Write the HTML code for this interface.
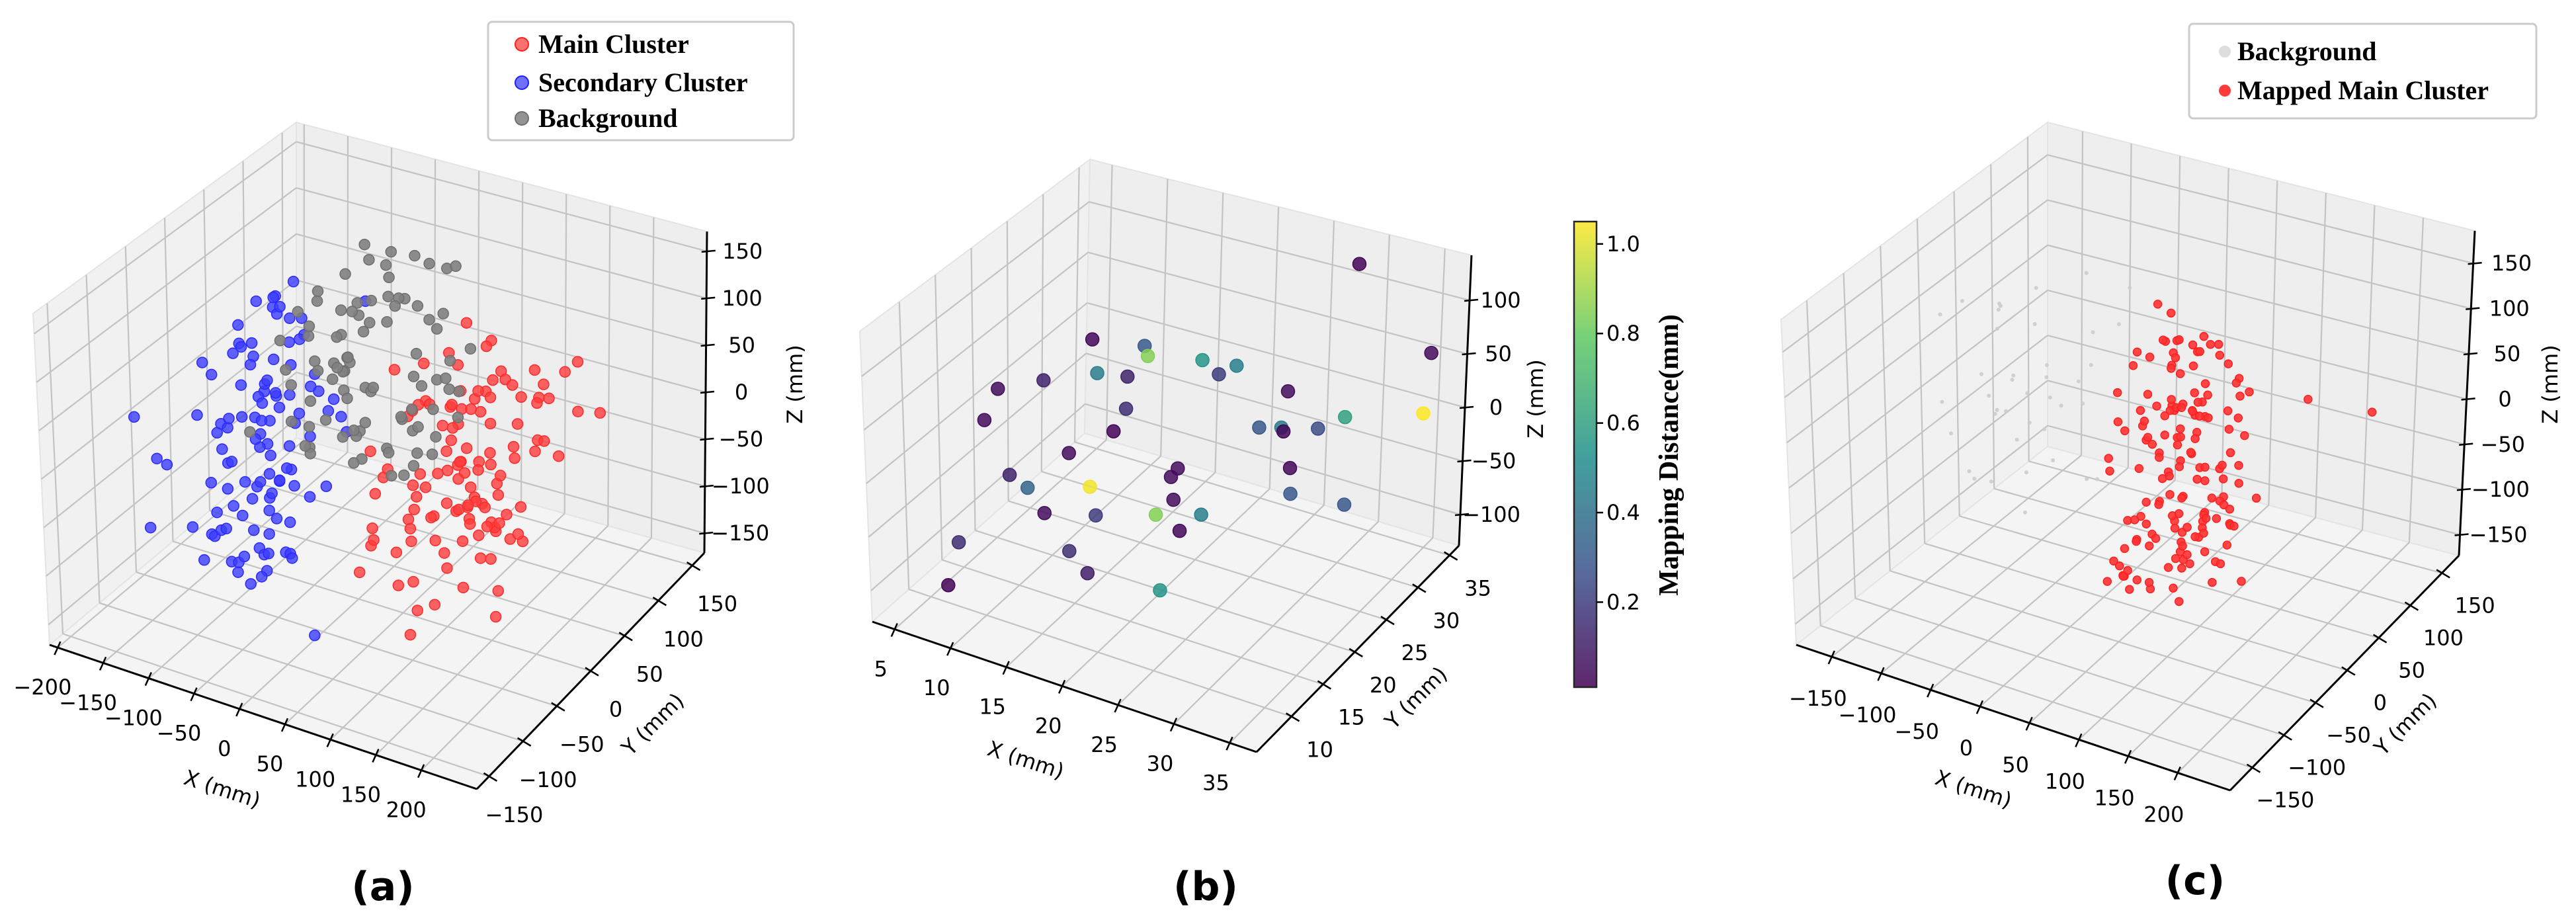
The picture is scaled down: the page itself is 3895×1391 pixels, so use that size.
<!DOCTYPE html>
<html><head><meta charset="utf-8">
<style>
html,body{margin:0;padding:0;background:#fff;}
svg{display:block;}
text{font-family:"DejaVu Sans","Liberation Sans",sans-serif;}
.leg{font-family:"Liberation Serif",serif;font-weight:bold;font-size:40px;}
</style></head>
<body>
<svg id="root" xmlns="http://www.w3.org/2000/svg" width="3895" height="1391" viewBox="0 0 3895 1391">
<rect x="0" y="0" width="3895" height="1391" fill="#fff"/>
<g id="pa"></g>
<g id="pb"></g>
<g id="pc"></g>
<defs>
<linearGradient id="vir" x1="0" y1="1" x2="0" y2="0">
<stop offset="0" stop-color="#440154"/><stop offset="0.25" stop-color="#3b528b"/><stop offset="0.5" stop-color="#21918c"/><stop offset="0.75" stop-color="#5ec962"/><stop offset="1" stop-color="#fde725"/>
</linearGradient>
</defs>
<g>
<rect x="738" y="33" width="462" height="179" rx="6" fill="#fff" stroke="#cccccc" stroke-width="3"/>
<circle cx="789" cy="67" r="10" fill="#ff4040" fill-opacity="0.75" stroke="#ff2020" stroke-width="2"/>
<text class="leg" x="814" y="80">Main Cluster</text>
<circle cx="789" cy="125" r="10" fill="#4040ff" fill-opacity="0.75" stroke="#2020ff" stroke-width="2"/>
<text class="leg" x="814" y="138">Secondary Cluster</text>
<circle cx="789" cy="179" r="10" fill="#808080" fill-opacity="0.85" stroke="#707070" stroke-width="2"/>
<text class="leg" x="814" y="192">Background</text>
</g>
<g>
<rect x="3310" y="36" width="525" height="143" rx="6" fill="#fff" stroke="#cccccc" stroke-width="3"/>
<circle cx="3364" cy="78" r="9" fill="#dddddd"/>
<text class="leg" x="3383" y="91">Background</text>
<circle cx="3364" cy="137" r="9" fill="#ff3b3b"/>
<text class="leg" x="3383" y="150">Mapped Main Cluster</text>
</g>
<g id="cbar">
<rect x="2380" y="335" width="34" height="704" fill="url(#vir)" opacity="0.85" stroke="#000" stroke-width="2.5"/>
<text x="2524" y="688" transform="rotate(-90 2524 688)" text-anchor="middle" dominant-baseline="central" style="font-family:'Liberation Serif',serif;font-weight:bold;font-size:42px">Mapping Distance(mm)</text>
</g>
<text x="579" y="1341" text-anchor="middle" dominant-baseline="central" style="font-weight:bold;font-size:60px">(a)</text>
<text x="1823" y="1341" text-anchor="middle" dominant-baseline="central" style="font-weight:bold;font-size:60px">(b)</text>
<text x="3319" y="1332" text-anchor="middle" dominant-baseline="central" style="font-weight:bold;font-size:60px">(c)</text>
</svg>
<script>
// ---------- data: panel (a) ----------
const aTicksX=[-200,-150,-100,-50,0,50,100,150,200];
const aTicksY=[-150,-100,-50,0,50,100,150];
const aTicksZ=[-150,-100,-50,0,50,100,150];
const redX=[110,60,150,85,175,40,130,95,190,70,120,160,50,140,100,180,75,125,35,155,
90,170,65,135,115,195,55,145,80,165,105,45,185,125,70,150,95,200,60,140,
115,175,85,130,50,160,100,190,75,120,145,40,170,90,135,110,155,65,180,105,
125,80,165,55,140,95,185,70,150,115,45,175,100,130,85,160,120,60,195,110,
135,75,155,90,170,50,145,105,180,65,125,115,165,80,140,100,190,70,150,95,
165,222,120,85,140,105,160,75,130,110,150,90,175,100,135,60,145,115,125,88];
const redY=[0,-60,40,80,-30,20,-90,60,-10,30,-70,90,-40,10,70,-80,50,-20,100,-50,
15,-95,45,-25,85,-55,25,65,-85,5,-35,75,-65,35,-5,95,-45,55,-75,-15,
20,-70,-40,90,10,-20,60,-90,30,-60,80,0,-30,50,-100,40,-10,70,-50,25,
-80,5,45,-35,85,-65,15,55,-5,-95,35,-25,75,-45,65,-85,-15,95,-55,10,
50,-20,30,-75,-40,90,0,-60,20,60,-30,80,-90,40,-10,-50,70,-70,15,35,
60,60,-45,25,-5,85,-35,45,-65,5,-85,55,-25,75,-15,-55,35,65,-75,0];
const redZ=[0,40,-60,70,-30,-90,20,80,-50,10,-100,50,-20,90,-70,30,-40,60,-10,-80,
45,-25,75,-55,15,-95,35,65,-35,-65,85,-5,25,-85,55,-45,5,95,-75,-15,
-50,10,70,-30,-90,40,0,60,-70,20,-20,80,-60,30,-100,50,-40,90,-10,-80,
25,-65,55,-5,35,-85,75,-45,15,-25,65,-95,45,-55,5,85,-35,-75,30,-15,
-20,60,-80,40,0,-60,80,-40,20,-100,50,-10,70,-50,10,-90,30,-30,90,-70,
44,44,-45,15,-85,25,-35,65,-5,55,-75,35,-25,-65,75,-55,5,-95,45,-15];
const blueX=[-100,-150,-60,-170,-40,-120,-80,-140,-30,-110,-90,-160,-50,-130,-70,-180,-20,-115,-85,-145,
-55,-125,-95,-165,-35,-105,-75,-155,-45,-135,-65,-175,-25,-100,-150,-60,-120,-80,-140,-40,
-110,-90,-160,-50,-130,-70,-170,-30,-115,-85,-145,-55,-125,-95,-165,-35,-105,-75,-155,-45,
-135,-65,-100,-120,-80,-60,-140,-40,-110,-90,-50,-130,-70,-150,-30,-115,-85,-145,-55,-125,
-95,-160,-35,-105,-75,-170,-45,-135,-65,-20,-100,-120,-80,-140,-60,-110,-90,-50,-130,-70,
-40,-150,-85,30,-115,-65,-95,-125,-55,-75];
const blueY=[-10,40,-70,70,-100,20,-40,60,-90,0,-60,80,-30,50,-80,10,-110,30,-50,90,
-20,60,-95,40,-65,-5,-85,75,-45,25,-105,55,-35,15,-75,85,-25,45,-55,-15,
5,-90,35,-60,65,-40,-10,-100,50,-70,20,-30,80,-80,10,-50,70,-20,-110,40,
-35,0,-65,55,-25,-85,30,-45,15,-75,-5,45,-95,25,-55,65,-15,-105,35,-40,
-60,20,-80,50,-30,10,-90,60,-50,-70,0,40,-20,-100,30,-10,70,-60,25,-45,
-75,15,-35,-100,55,-85,5,-25,45,-65];
const blueZ=[-20,30,-70,50,-100,0,-50,70,-90,10,-60,40,-30,60,-110,20,-80,-10,-40,65,
-55,25,-95,45,-15,-75,5,55,-105,-35,35,-65,15,-85,-25,70,-45,-5,-100,50,
0,-70,30,-40,-90,60,-20,-60,10,-110,40,-30,20,-80,-50,65,-10,-95,45,-35,
-65,5,-85,55,-15,-45,25,-105,-25,35,-75,15,-55,-5,-100,50,-35,-70,0,-90,
20,-40,-60,40,-80,10,-20,60,-110,-50,30,-30,-70,0,-90,50,-45,-15,-65,25,
-85,35,-5,-132,-55,-95,15,-75,-25,-105];
const grayX=[-40,-80,0,-110,30,-60,-20,-95,15,-50,-120,-5,-70,40,-35,-100,10,-85,-15,-55,
-115,25,-45,-75,5,-30,-105,35,-65,-10,-90,20,-40,-110,-25,35,-80,-55,0,-120,
-20,-70,15,-45,-100,30,-60,-5,-85,-35,10,-110,-50,25,-25,-75,5,-95,-15,40,
-17,-65,-30,-115,20,-40,-85,0,-55,-10,-90,35,-70,-20,-105,10,-45,-80,25,-35,
-60,-5,-100,15,-50,-25,-75,30,-115,-40];
const grayY=[60,100,40,80,120,30,90,50,110,70,0,130,20,60,100,90,30,120,80,50,
60,110,-10,70,130,40,100,60,80,10,120,50,90,70,130,20,40,110,60,80,
30,125,70,50,100,40,120,0,90,60,110,30,80,50,130,20,70,100,40,90,
100,60,120,50,80,-5,70,110,40,90,20,65,105,35,75,115,45,85,15,95,
55,125,25,65,105,10,85,45,75,35];
const grayZ=[0,40,-40,60,20,-20,80,-50,10,50,-30,90,-45,30,70,-10,-35,85,-40,20,
60,-20,-25,40,95,-30,10,-50,70,-10,100,0,50,-40,90,-45,30,60,-20,20,
-50,80,10,-40,40,-50,100,-30,0,70,-10,50,-20,60,30,-45,-40,80,20,-30,
120,10,50,-50,-20,60,-10,40,30,0,15,-35,55,-15,75,-25,35,5,-45,65,
-5,45,25,-30,85,-15,55,-40,35,5];
// ---------- data: panel (b) ----------
const bTicksX=[5,10,15,20,25,30,35];
const bTicksY=[10,15,20,25,30,35];
const bTicksZ=[-100,-50,0,50,100];
const cbTicks=[0.2,0.4,0.6,0.8,1.0];
const bX=[27.7,35,34.5,28.6,26.2,22.9,23.1,20.9,23.4,25.5,25.6,28.8,7.5,12.2,13.7,17.4,19.3,18.9,11,13.7,6.2,5.2,5.2,13.6,12.5,10.3,7.4,9,12.2,18.3,17.7,19.7,10.5,15.1,19.3,22.2,22.6,6.4,15.1,17.9,7.2,25.5];
const bY=[36,35,35,33,33,33,33,33,33,30,30,33,30,30,28,30,32,30,25,25,25,20,18,25,25,22,18,18,22,25,25,22,18,18,20,22,18,12,14,12,9,10];
const bZ=[111,53,-5,-14,-32,-41,-44,-47,-5,-54,-78,-96,14,22,28,24,13,15,20,25,-2,14,-5,-6,-31,-42,-50,-57,-68,-48,-58,-56,-76,-63,-60,-62,-53,-84,-74,-74,-105,-53];
const bVal=[0.02,0.05,1.05,0.6,0.25,0.45,0.03,0.3,0.05,0.03,0.3,0.3,0.03,0.3,0.85,0.55,0.45,0.2,0.45,0.12,0.12,0.05,0.05,0.15,0.02,0.05,0.12,0.35,1.03,0.05,0.05,0.05,0.05,0.2,0.85,0.45,0.03,0.15,0.15,0.1,0.02,0.55];
// ---------- data: panel (c) ----------
const cTicksX=[-150,-100,-50,0,50,100,150,200];
const cTicksY=[-150,-100,-50,0,50,100,150];
const cTicksZ=[-150,-100,-50,0,50,100,150];
const mapX=[77,40,110,25,95,60,130,50,85,35,120,70,100,30,65,115,45,90,55,125,
80,38,105,62,28,98,72,118,48,88,33,108,58,128,68,42,93,78,23,113,
52,83,103,37,67,123,57,97,75,46,87,117,32,63,107,82,27,92,53,132,
70,44,101,61,86,36,111,76,49,96,66,121,31,81,56,106,41,91,71,126,
59,84,34,99,74,114,47,64,89,104,165,230,55,80,45,95,60,100,70,85,
45,110,75,130,30,95,60,120,85,50,105,70,135,40,90,115,55,80,125,65,
100,35,88,118,58,72,128,48,98,62,112,42,82,122,52,92,68,108,38,78,
102,57,132,47,87,117,63,93,27,113,73,53,97,83,127,43,67,107,77,59];
const mapY=[0,30,-20,40,-35,15,-45,25,-10,45,-30,5,35,-15,-40,20,-25,10,-50,30,
-5,40,-20,15,-35,25,-45,5,35,-15,-30,10,45,-25,0,20,-40,30,-10,-50,
35,-20,15,-5,40,-30,25,-45,10,-15,45,-35,0,20,-25,30,-10,-40,5,-20,
15,-35,40,-5,25,-45,10,-15,35,-30,0,20,-40,30,-10,45,-25,5,-50,15,
-5,25,-35,40,-20,10,-30,35,-15,0,60,60,-10,20,-30,10,-20,30,-40,0,
50,-55,20,-40,60,-10,45,-60,30,-25,55,-45,10,40,-35,25,-50,35,-5,50,
-30,55,-60,15,-20,45,-40,60,-15,35,-55,20,-45,50,-25,5,-50,40,-10,55,
-35,25,-5,45,-60,10,-30,50,-20,30,-45,60,-15,40,-55,15,-35,45,-25,0];
const mapZ=[0,100,-60,130,-110,40,-20,80,-90,120,-40,20,90,-130,60,-70,110,-10,-100,70,
30,-50,140,-80,10,-120,50,-30,100,-140,80,-60,20,-100,115,-15,-85,45,-125,5,
65,-45,125,-95,35,-65,-5,95,-115,55,-35,15,105,-75,75,-25,-135,85,-55,25,
-90,45,-10,130,-70,5,-40,110,-105,60,-20,90,-120,30,-80,50,-60,120,-30,0,
-50,70,-100,15,40,-15,-130,100,-75,55,54,59,-140,-95,-110,-60,-85,-125,-45,-70,
20,-60,90,-20,60,-100,40,-40,110,-80,0,70,-120,30,-10,80,-70,50,-30,100,
-90,10,60,-50,120,-110,20,-40,70,-130,40,-20,90,-60,0,50,-100,30,-70,80,
-10,110,-50,20,-90,60,-30,-120,40,-80,100,-15,25,-65,75,-105,45,-45,65,-25];
const bgX=[-100,-150,-60,-170,-120,-80,-140,-40,-110,-160,-90,-130,-50,-175,-70,-115,-145,-30,-95,-135,
-65,-155,-105,-85,-125,-45,-165,-75,-140,-55,-100,-180,-60,-120,-90,-150,-35,-110,-130,-70];
const bgY=[0,60,-30,90,20,-50,110,40,-10,70,30,100,-40,50,80,10,120,-20,60,90,
-40,30,70,-10,50,100,0,80,40,-30,110,20,60,-50,90,10,40,-20,70,120];
const bgZ=[0,60,-80,40,100,-40,-100,80,20,-60,120,-20,60,-120,10,80,-50,40,-90,30,
70,-110,-30,50,-70,90,-10,110,-40,20,-60,70,-100,0,-20,100,-80,50,-120,30];

const NS='http://www.w3.org/2000/svg';
function mk(tag,attrs,parent){const e=document.createElementNS(NS,tag);for(const k in attrs)e.setAttribute(k,attrs[k]);parent.appendChild(e);return e;}
function fmt(v){return (v<0?'\u2212':'')+Math.abs(v);}

const geoA={xr:[-209,261],yr:[-168,168],zr:[-171,171],
 c:{'000':[75,975],'100':[721,1193],'110':[1065,836],'010':[448,662],'001':[50,474],'101':[741,678],'011':[448,185],'111':[1069,350]},
 xo:[-23,60],yo:[38,58],zo:[54,0],xl:[336,1193,18],yl:[987,1095,-45],zl:[1202,581]};
const geoB={xr:[3,37.4],yr:[4.5,36.5],zr:[-129,142],
 c:{'000':[1319,940],'100':[1900,1137],'110':[2206,825],'010':[1640,655],'001':[1300,501],'101':[1915,687],'011':[1648,241],'111':[2225,386]},
 xo:[-21,60],yo:[43,50],zo:[47,0],xl:[1551,1149,18],yl:[2141,1055,-45],zl:[2322,603]};
const geoC={xr:[-186,253],yr:[-185,177],zr:[-173,186],
 c:{'000':[2716,975],'100':[3372,1195],'110':[3718,840],'010':[3096,675],'001':[2693,483],'101':[3392,680],'011':[3096,185],'111':[3742,349]},
 xo:[-21,63],yo:[50,49],zo:[58,0],xl:[2984,1193,18],yl:[3637,1095,-45],zl:[3856,581]};

function proj(g,x,y,z){
 const u=(x-g.xr[0])/(g.xr[1]-g.xr[0]),v=(y-g.yr[0])/(g.yr[1]-g.yr[0]),w=(z-g.zr[0])/(g.zr[1]-g.zr[0]);
 let px=0,py=0;
 for(const i of [0,1])for(const j of [0,1])for(const k of [0,1]){
  const wt=(i?u:1-u)*(j?v:1-v)*(k?w:1-w);const p=g.c[''+i+j+k];px+=wt*p[0];py+=wt*p[1];}
 return [px,py];
}
function line(g,parent,a,b,stroke,sw){const p=proj(g,...a),q=proj(g,...b);return mk('line',{x1:p[0],y1:p[1],x2:q[0],y2:q[1],stroke:stroke,'stroke-width':sw},parent);}

function drawAxes(g,parent,tx,ty,tz,pfx){
 const [xa,xb]=g.xr,[ya,yb]=g.yr,[za,zb]=g.zr;
 const panes=[[[xa,ya,za],[xb,ya,za],[xb,yb,za],[xa,yb,za],'#f4f4f4','floor-pane'],
  [[xa,ya,za],[xa,yb,za],[xa,yb,zb],[xa,ya,zb],'#f1f1f1','left-pane'],
  [[xa,yb,za],[xb,yb,za],[xb,yb,zb],[xa,yb,zb],'#eeeeee','back-pane']];
 for(const pn of panes){
  const pts=pn.slice(0,4).map(p=>proj(g,...p).join(',')).join(' ');
  const e=mk('polygon',{points:pts,fill:pn[4],stroke:'#e4e4e4','stroke-width':2},parent);
  
  
 }
 const gs='#c3c3c3',gw=2.2;
 for(const x of tx){
  let e=line(g,parent,[x,ya,za],[x,yb,za],gs,gw);
  
  
  e=line(g,parent,[x,yb,za],[x,yb,zb],gs,gw);
  
  
 }
 for(const y of ty){
  let e=line(g,parent,[xa,y,za],[xb,y,za],gs,gw);
  
  
  e=line(g,parent,[xa,y,za],[xa,y,zb],gs,gw);
  
  
 }
 for(const z of tz){
  let e=line(g,parent,[xa,ya,z],[xa,yb,z],gs,gw);
  
  
  e=line(g,parent,[xa,yb,z],[xb,yb,z],gs,gw);
  
  
 }
 let e=line(g,parent,[xa,ya,za],[xb,ya,za],'#000',3);
 
 
 e=line(g,parent,[xb,ya,za],[xb,yb,za],'#000',3);
 
 
 e=line(g,parent,[xb,yb,za],[xb,yb,zb],'#000',3);
 
 
 const fs=32;
 for(const x of tx){
  const p=proj(g,x,ya,za);
  let t=mk('line',{x1:p[0]+4,y1:p[1]-9,x2:p[0]-5,y2:p[1]+11,stroke:'#000','stroke-width':2.5},parent);
  
  
  const l=mk('text',{x:p[0]+g.xo[0],y:p[1]+g.xo[1],'text-anchor':'middle','dominant-baseline':'central','font-size':fs},parent);
  l.textContent=fmt(x);
  
  
 }
 for(const y of ty){
  const p=proj(g,xb,y,za);
  let t=mk('line',{x1:p[0]-8,y1:p[1]-5,x2:p[0]+12,y2:p[1]+7,stroke:'#000','stroke-width':2.5},parent);
  
  
  const l=mk('text',{x:p[0]+g.yo[0],y:p[1]+g.yo[1],'text-anchor':'middle','dominant-baseline':'central','font-size':fs},parent);
  l.textContent=fmt(y);
  
  
 }
 for(const z of tz){
  const p=proj(g,xb,yb,z);
  let t=mk('line',{x1:p[0]-8,y1:p[1]+1,x2:p[0]+13,y2:p[1]-1,stroke:'#000','stroke-width':2.5},parent);
  
  
  const l=mk('text',{x:p[0]+g.zo[0],y:p[1]+g.zo[1],'text-anchor':'middle','dominant-baseline':'central','font-size':fs},parent);
  l.textContent=fmt(z);
  
  
 }
 let l=mk('text',{x:g.xl[0],y:g.xl[1],transform:`rotate(${g.xl[2]} ${g.xl[0]} ${g.xl[1]})`,'text-anchor':'middle','dominant-baseline':'central','font-size':fs},parent);
 l.textContent='X (mm)';
 
 
 l=mk('text',{x:g.yl[0],y:g.yl[1],transform:`rotate(${g.yl[2]} ${g.yl[0]} ${g.yl[1]})`,'text-anchor':'middle','dominant-baseline':'central','font-size':fs},parent);
 l.textContent='Y (mm)';
 
 
 l=mk('text',{x:g.zl[0],y:g.zl[1],transform:`rotate(-90 ${g.zl[0]} ${g.zl[1]})`,'text-anchor':'middle','dominant-baseline':'central','font-size':fs},parent);
 l.textContent='Z (mm)';
 
 
}

function scatter(g,parent,X,Y,Z,r,fill,stroke,op,name){
 for(let i=0;i<X.length;i++){
  const p=proj(g,X[i],Y[i],Z[i]);
  const c=mk('circle',{cx:p[0],cy:p[1],r:r,fill:fill,'fill-opacity':op,stroke:stroke,'stroke-width':1.5},parent);
  
  
 }
}

const pa=document.getElementById('pa'),pb=document.getElementById('pb'),pc=document.getElementById('pc');
drawAxes(geoA,pa,aTicksX,aTicksY,aTicksZ,'a');
scatter(geoA,pa,redX,redY,redZ,8,'#ff3c3c','#ff2a2a',0.8,'point-main-cluster');
scatter(geoA,pa,blueX,blueY,blueZ,8,'#3c3cff','#2a2aff',0.8,'point-secondary-cluster');
scatter(geoA,pa,grayX,grayY,grayZ,8,'#808080','#6e6e6e',0.9,'point-background');

drawAxes(geoB,pb,bTicksX,bTicksY,bTicksZ,'b');
const vstops=[[0,[68,1,84]],[0.25,[59,82,139]],[0.5,[33,145,140]],[0.75,[94,201,98]],[1,[253,231,37]]];
function viridis(v){const t=Math.max(0,Math.min(1,(v-0.01)/(1.05-0.01)));
 for(let i=0;i<4;i++){const a=vstops[i],b=vstops[i+1];if(t<=b[0]){const f=(t-a[0])/(b[0]-a[0]);
  return 'rgb('+a[1].map((c,k)=>Math.round(c+(b[1][k]-c)*f)).join(',')+')';}}
 return 'rgb(253,231,37)';}
for(let i=0;i<bX.length;i++){
 const p=proj(geoB,bX[i],bY[i],bZ[i]);
 const c=mk('circle',{cx:p[0],cy:p[1],r:10,fill:viridis(bVal[i]),'fill-opacity':0.85,stroke:viridis(bVal[i]),'stroke-width':1.5},pb);
 
 
}
const cbar=document.getElementById('cbar');
for(const v of cbTicks){
 const y=1039-(v-0.01)/(1.05-0.01)*704;
 const t=mk('line',{x1:2414,y1:y,x2:2424,y2:y,stroke:'#000','stroke-width':2.5},cbar);
 
 
 const l=mk('text',{x:2429,y:y,'dominant-baseline':'central','font-size':32},cbar);
 l.textContent=v.toFixed(1);
 
 
}

drawAxes(geoC,pc,cTicksX,cTicksY,cTicksZ,'c');
scatter(geoC,pc,bgX,bgY,bgZ,3,'#cccccc','none',0.9,'point-background-c');
scatter(geoC,pc,mapX,mapY,mapZ,6,'#ff3333','#ff2020',0.9,'point-mapped-main-cluster');
</script>
</body></html>
